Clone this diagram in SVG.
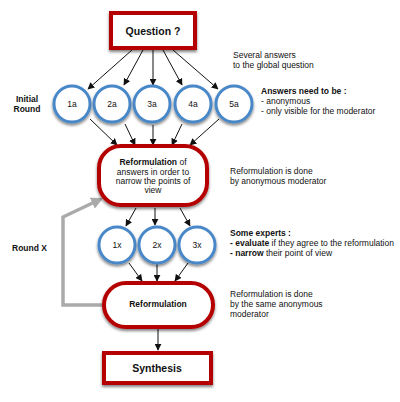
<svg xmlns="http://www.w3.org/2000/svg" width="400" height="402" viewBox="0 0 400 402">
<defs>
<filter id="sh" x="-30%" y="-30%" width="160%" height="170%">
<feGaussianBlur in="SourceAlpha" stdDeviation="1.5"/>
<feOffset dx="0" dy="2" result="b"/>
<feComponentTransfer><feFuncA type="linear" slope="0.5"/></feComponentTransfer>
<feMerge><feMergeNode/><feMergeNode in="SourceGraphic"/></feMerge>
</filter>
<marker id="ah" viewBox="0 0 10 10" refX="9" refY="5" markerWidth="7" markerHeight="7" markerUnits="userSpaceOnUse" orient="auto">
<path d="M0,0 L10,5 L0,10 z" fill="#111"/>
</marker>
<marker id="gh" viewBox="0 0 10 10" refX="8" refY="5" markerWidth="12" markerHeight="12" markerUnits="userSpaceOnUse" orient="auto">
<path d="M0,0 L10,5 L0,10 z" fill="#aaa"/>
</marker>
</defs>
<style>
text{font-family:"Liberation Sans",Arial,sans-serif;fill:#111}
.box{fill:#fff;stroke:#b40000;stroke-width:4;filter:url(#sh)}
.circ{fill:#fff;stroke:#4a88c8;stroke-width:3;filter:url(#sh)}
.t13{font-size:10.5px;font-weight:bold;text-anchor:middle}
.t10{font-size:8.5px}
.lbl{font-size:8.5px;text-anchor:middle}
.b{font-weight:bold}
.conn line{stroke:#111;stroke-width:1;marker-end:url(#ah)}
</style>
<rect width="400" height="402" fill="#fff"/>
<g id="connectors" class="conn">
<line x1="132" y1="50" x2="88" y2="89"/>
<line x1="143" y1="50" x2="124" y2="85"/>
<line x1="153" y1="50" x2="153" y2="85"/>
<line x1="163" y1="50" x2="182" y2="85"/>
<line x1="173" y1="50" x2="218" y2="89"/>
<line x1="90" y1="119" x2="117" y2="145"/>
<line x1="125" y1="124" x2="135" y2="145"/>
<line x1="153" y1="125" x2="153" y2="145"/>
<line x1="182" y1="124" x2="172" y2="145"/>
<line x1="219" y1="119" x2="190" y2="145"/>
<line x1="136" y1="208" x2="126" y2="226"/>
<line x1="155" y1="208" x2="155" y2="225"/>
<line x1="180" y1="208" x2="190" y2="226"/>
<line x1="129" y1="263" x2="142" y2="281"/>
<line x1="157" y1="264" x2="157" y2="281"/>
<line x1="188" y1="263" x2="175" y2="281"/>
<line x1="158" y1="328" x2="158" y2="350"/>
<path d="M102,305 L63,305 L63,217 L101,199" fill="none" stroke="#aaa" stroke-width="3.5" stroke-linejoin="miter" marker-end="url(#gh)"/>
</g>
<g id="question">
<rect class="box" x="111" y="13" width="84" height="35"/>
<text class="t13" x="153" y="35">Question ?</text>
</g>
<g id="c1a"><circle class="circ" cx="72" cy="104" r="18"/><text class="lbl" x="72" y="107">1a</text></g>
<g id="c2a"><circle class="circ" cx="112" cy="104" r="18"/><text class="lbl" x="112" y="107">2a</text></g>
<g id="c3a"><circle class="circ" cx="152" cy="104" r="18"/><text class="lbl" x="152" y="107">3a</text></g>
<g id="c4a"><circle class="circ" cx="193" cy="104" r="18"/><text class="lbl" x="193" y="107">4a</text></g>
<g id="c5a"><circle class="circ" cx="234" cy="104" r="18"/><text class="lbl" x="234" y="107">5a</text></g>
<g id="reform1">
<rect class="box" x="99" y="146" width="108" height="59" rx="22"/>
<text class="lbl" x="153" y="165"><tspan class="b">Reformulation</tspan> of</text>
<text class="lbl" x="153" y="175">answers in order to</text>
<text class="lbl" x="153" y="184">narrow the points of</text>
<text class="lbl" x="153" y="193">view</text>
</g>
<g id="c1x"><circle class="circ" cx="117" cy="245" r="18"/><text class="lbl" x="117" y="248">1x</text></g>
<g id="c2x"><circle class="circ" cx="157" cy="245" r="18"/><text class="lbl" x="157" y="248">2x</text></g>
<g id="c3x"><circle class="circ" cx="197" cy="245" r="18"/><text class="lbl" x="197" y="248">3x</text></g>
<g id="reform2">
<rect class="box" x="104" y="283" width="109" height="44" rx="22"/>
<text class="lbl b" x="158" y="307">Reformulation</text>
</g>
<g id="synthesis">
<rect class="box" x="104" y="353" width="107" height="30"/>
<text class="t13" x="157" y="372">Synthesis</text>
</g>
<g id="notes">
<text class="t10" x="233" y="58">Several answers</text>
<text class="t10" x="233" y="68">to the global question</text>
<text class="t10 b" x="261" y="94">Answers need to be :</text>
<text class="t10" x="261" y="104">- anonymous</text>
<text class="t10" x="261" y="114">- only visible for the moderator</text>
<text class="lbl b" x="27" y="102">Initial</text>
<text class="lbl b" x="27" y="112">Round</text>
<text class="t10" x="230" y="174">Reformulation is done</text>
<text class="t10" x="230" y="184">by anonymous moderator</text>
<text class="t10 b" x="12" y="251">Round X</text>
<text class="t10 b" x="230" y="236">Some experts :</text>
<text class="t10" x="230" y="246"><tspan class="b">- evaluate</tspan> if they agree to the reformulation</text>
<text class="t10" x="230" y="256"><tspan class="b">- narrow</tspan> their point of view</text>
<text class="t10" x="230" y="297">Reformulation is done</text>
<text class="t10" x="230" y="307">by the same anonymous</text>
<text class="t10" x="230" y="317">moderator</text>
</g>
</svg>
